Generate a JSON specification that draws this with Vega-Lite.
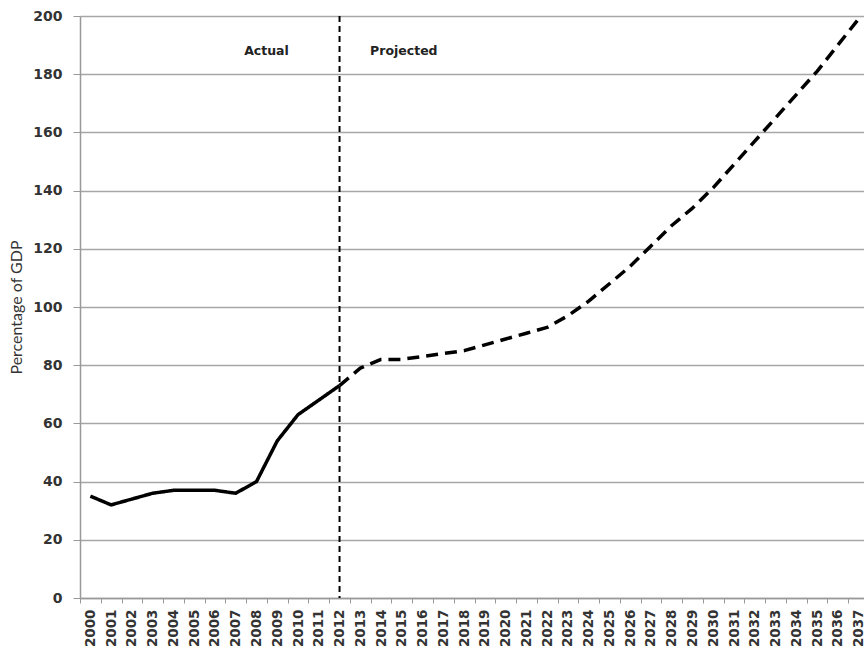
{
  "$schema": "https://vega.github.io/schema/vega-lite/v6.json",
  "width": 789,
  "height": 582,
  "autosize": {"type": "none"},
  "padding": {"left": 80, "top": 16, "right": 0, "bottom": 58},
  "background": "white",
  "config": {"view": {"stroke": null}},
  "datasets": {
    "debt": [
      {"year": "2000", "value": 35, "phase": "Actual"},
      {"year": "2001", "value": 32, "phase": "Actual"},
      {"year": "2002", "value": 34, "phase": "Actual"},
      {"year": "2003", "value": 36, "phase": "Actual"},
      {"year": "2004", "value": 37, "phase": "Actual"},
      {"year": "2005", "value": 37, "phase": "Actual"},
      {"year": "2006", "value": 37, "phase": "Actual"},
      {"year": "2007", "value": 36, "phase": "Actual"},
      {"year": "2008", "value": 40, "phase": "Actual"},
      {"year": "2009", "value": 54, "phase": "Actual"},
      {"year": "2010", "value": 63, "phase": "Actual"},
      {"year": "2011", "value": 68, "phase": "Actual"},
      {"year": "2012", "value": 73, "phase": "Actual"},
      {"year": "2012", "value": 73, "phase": "Projected"},
      {"year": "2013", "value": 79, "phase": "Projected"},
      {"year": "2014", "value": 82, "phase": "Projected"},
      {"year": "2015", "value": 82, "phase": "Projected"},
      {"year": "2016", "value": 83, "phase": "Projected"},
      {"year": "2017", "value": 84, "phase": "Projected"},
      {"year": "2018", "value": 85, "phase": "Projected"},
      {"year": "2019", "value": 87, "phase": "Projected"},
      {"year": "2020", "value": 89, "phase": "Projected"},
      {"year": "2021", "value": 91, "phase": "Projected"},
      {"year": "2022", "value": 93, "phase": "Projected"},
      {"year": "2023", "value": 97, "phase": "Projected"},
      {"year": "2024", "value": 102, "phase": "Projected"},
      {"year": "2025", "value": 108, "phase": "Projected"},
      {"year": "2026", "value": 114, "phase": "Projected"},
      {"year": "2027", "value": 121, "phase": "Projected"},
      {"year": "2028", "value": 128, "phase": "Projected"},
      {"year": "2029", "value": 134, "phase": "Projected"},
      {"year": "2030", "value": 141, "phase": "Projected"},
      {"year": "2031", "value": 149, "phase": "Projected"},
      {"year": "2032", "value": 157, "phase": "Projected"},
      {"year": "2033", "value": 165, "phase": "Projected"},
      {"year": "2034", "value": 173, "phase": "Projected"},
      {"year": "2035", "value": 181, "phase": "Projected"},
      {"year": "2036", "value": 190, "phase": "Projected"},
      {"year": "2037", "value": 199, "phase": "Projected"}
    ]
  },
  "layer": [
    {
      "data": {"name": "debt"},
      "mark": {"type": "line", "color": "black", "strokeWidth": 3.5, "strokeCap": "butt", "strokeJoin": "round"},
      "encoding": {
        "x": {
          "field": "year", "type": "ordinal",
          "scale": {"type": "band", "paddingInner": 0, "paddingOuter": 0},
          "axis": {
            "title": null, "grid": false, "labelAngle": -90, "labelAlign": "right", "labelBaseline": "middle",
            "tickBand": "extent", "tickSize": 5, "tickColor": "#999999", "domainColor": "#999999", "domainWidth": 1.5,
            "labelFont": "DejaVu Sans", "labelFontWeight": "bold", "labelFontSize": 13.5, "labelColor": "#333333",
            "labelPadding": 6
          }
        },
        "y": {
          "field": "value", "type": "quantitative",
          "scale": {"domain": [0, 200], "nice": false},
          "axis": {
            "title": "Percentage of GDP", "values": [0, 20, 40, 60, 80, 100, 120, 140, 160, 180, 200],
            "grid": true, "gridColor": "#a6a6a6", "gridWidth": 1.3, "domainColor": "#999999", "domainWidth": 1.5,
            "tickColor": "#999999", "tickSize": 7, "labelPadding": 11,
            "labelFont": "DejaVu Sans", "labelFontWeight": "bold", "labelFontSize": 14, "labelColor": "#333333",
            "titleFont": "Lato", "titleFontSize": 16, "titleFontWeight": "normal", "titleColor": "#333333", "titlePadding": 8
          }
        },
        "strokeDash": {
          "field": "phase", "type": "nominal",
          "scale": {"domain": ["Actual", "Projected"], "range": [[1, 0], [12, 7]]},
          "legend": null
        }
      }
    },
    {
      "data": {"values": [{"year": "2012"}]},
      "mark": {"type": "rule", "color": "black", "strokeWidth": 2, "strokeDash": [6, 4]},
      "encoding": {"x": {"field": "year", "type": "ordinal"}}
    },
    {
      "data": {"values": [{"year": "2008", "value": 188, "label": "Actual"}]},
      "mark": {"type": "text", "font": "DejaVu Sans", "fontWeight": "bold", "fontSize": 12.5, "color": "#222222", "align": "center", "baseline": "middle", "dx": 10},
      "encoding": {
        "x": {"field": "year", "type": "ordinal"},
        "y": {"field": "value", "type": "quantitative"},
        "text": {"field": "label"}
      }
    },
    {
      "data": {"values": [{"year": "2015", "value": 188, "label": "Projected"}]},
      "mark": {"type": "text", "font": "DejaVu Sans", "fontWeight": "bold", "fontSize": 12.5, "color": "#222222", "align": "center", "baseline": "middle", "dx": 2},
      "encoding": {
        "x": {"field": "year", "type": "ordinal"},
        "y": {"field": "value", "type": "quantitative"},
        "text": {"field": "label"}
      }
    }
  ]
}
